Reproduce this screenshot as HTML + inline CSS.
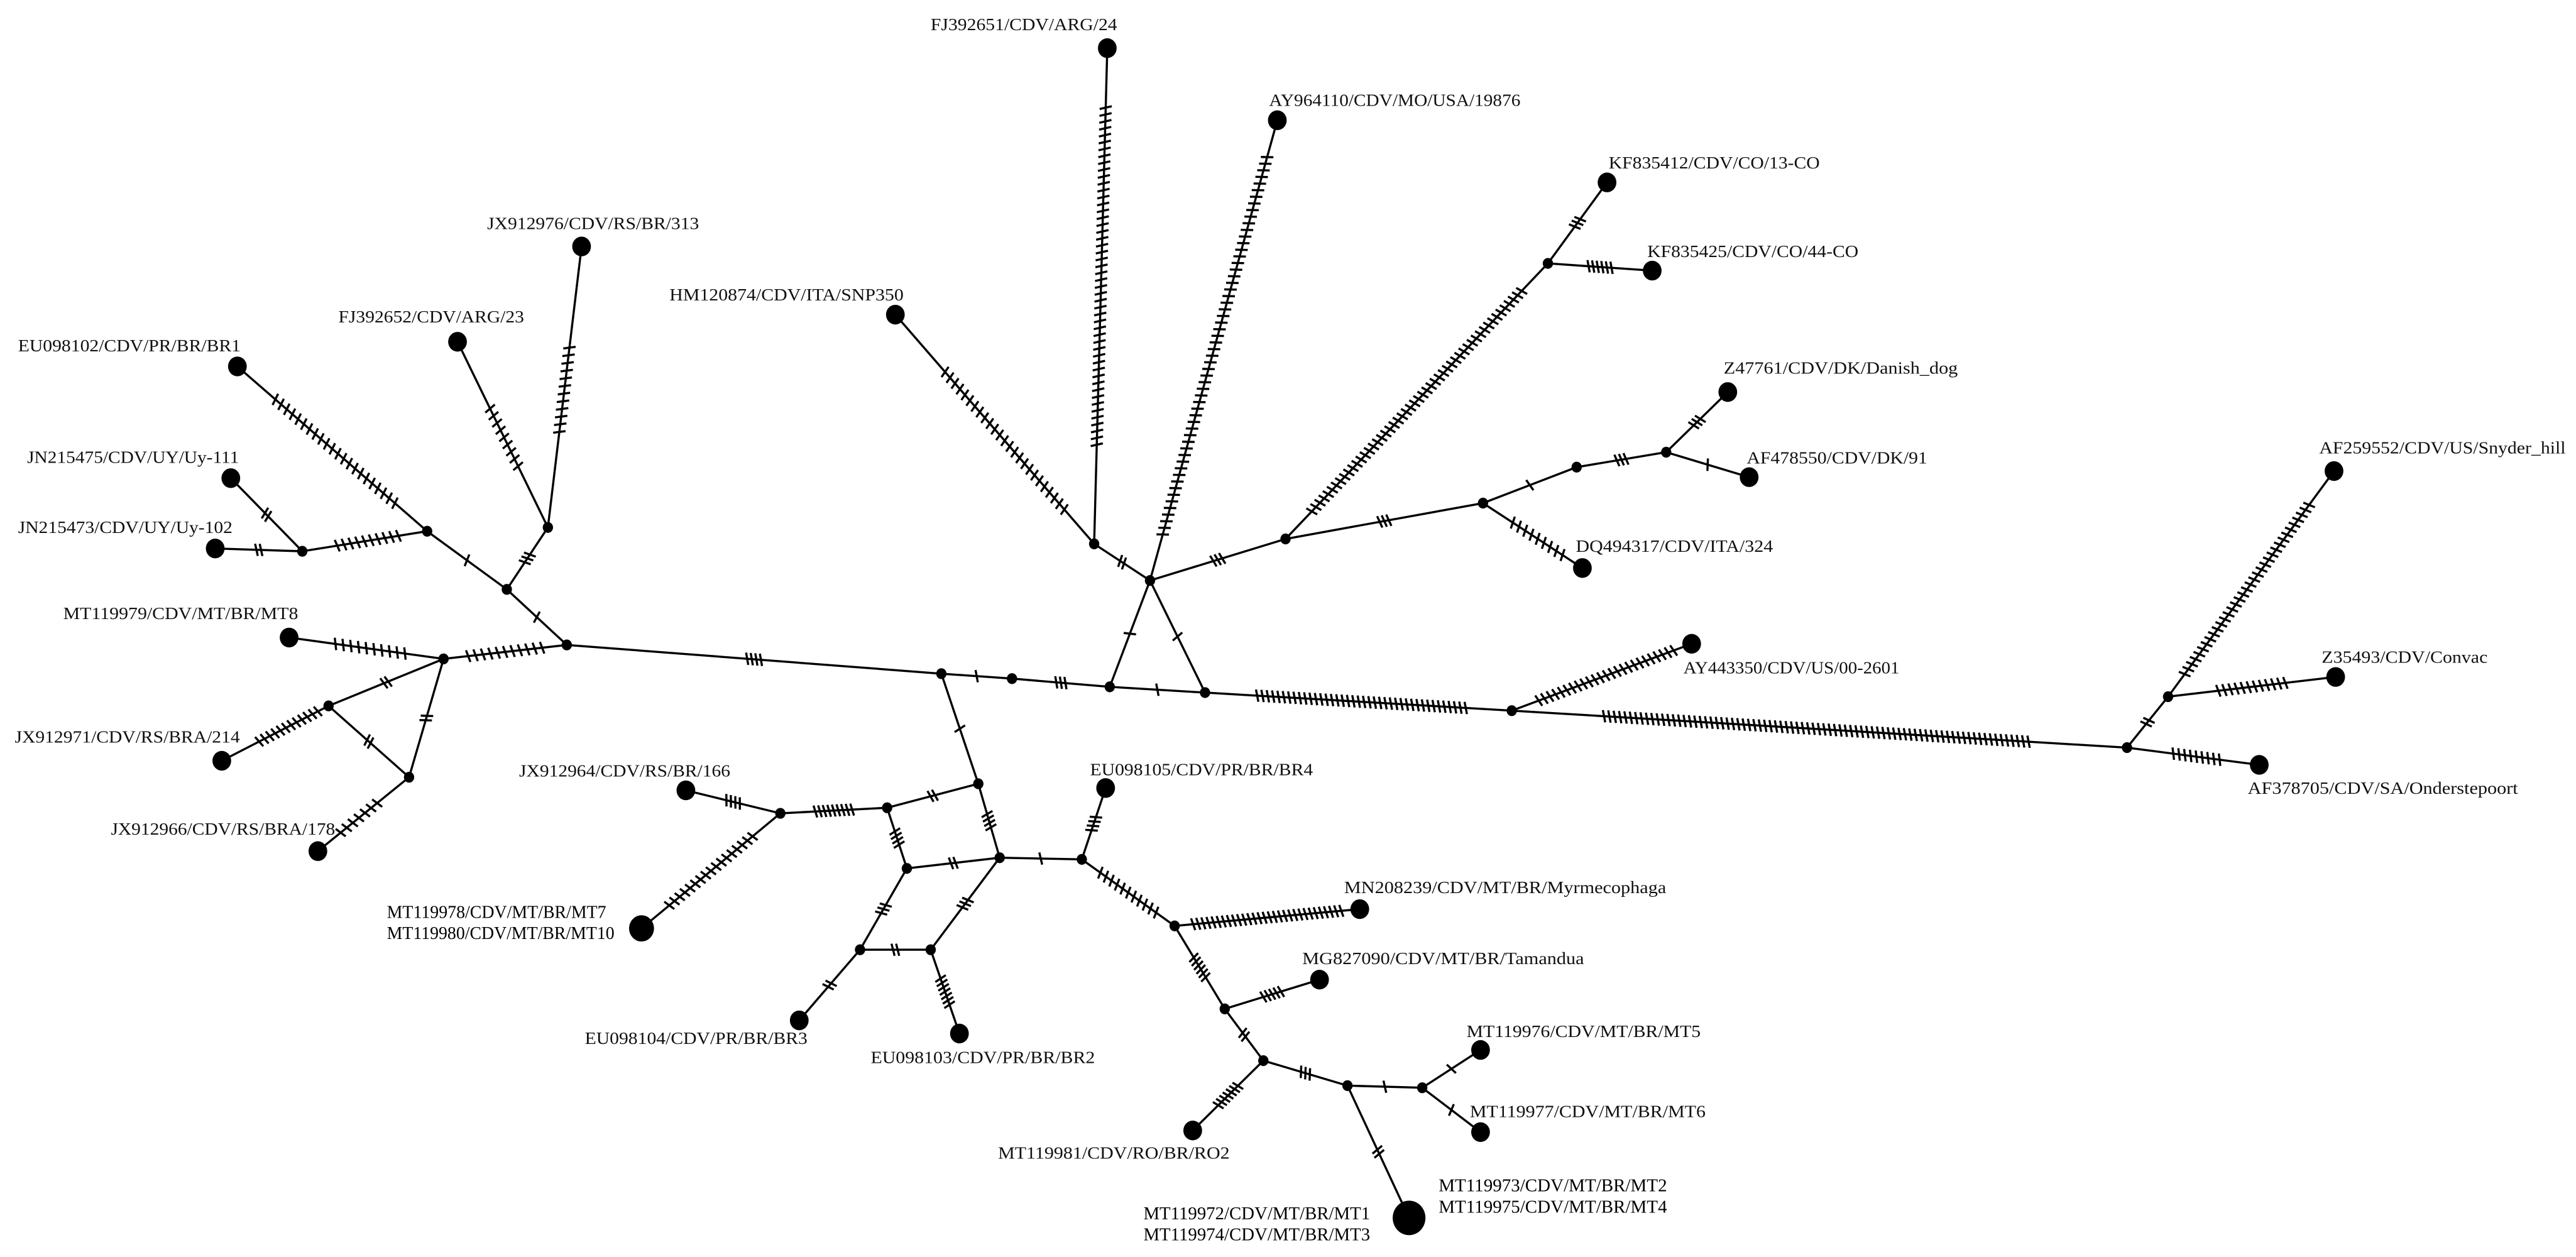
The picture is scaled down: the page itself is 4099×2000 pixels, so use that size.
<!DOCTYPE html>
<html><head><meta charset="utf-8"><style>
html,body{margin:0;padding:0;background:#fff;}
svg{display:block;}
text{font-family:"Liberation Serif","DejaVu Serif",serif;font-size:10.5px;fill:#111;dominant-baseline:central;}
text.b{font-size:11px;fill:#000;}
</style></head><body>
<svg id="s" width="4099" height="2000" viewBox="0 0 1568 765" preserveAspectRatio="none" xmlns="http://www.w3.org/2000/svg">
<g id="edges" stroke="#000" stroke-width="1.3" fill="none"></g>
<g id="ticks" stroke="#000" stroke-width="1.3" fill="none"></g>
<g id="nodes" fill="#000"></g>
<g>
<text x="566.5" y="15" textLength="113.5" lengthAdjust="spacingAndGlyphs">FJ392651/CDV/ARG/24</text>
<text x="772.5" y="61" textLength="153" lengthAdjust="spacingAndGlyphs">AY964110/CDV/MO/USA/19876</text>
<text x="979.2" y="99" textLength="128.5" lengthAdjust="spacingAndGlyphs">KF835412/CDV/CO/13-CO</text>
<text x="1002.7" y="153" textLength="128.5" lengthAdjust="spacingAndGlyphs">KF835425/CDV/CO/44-CO</text>
<text x="1049.2" y="224" textLength="142.5" lengthAdjust="spacingAndGlyphs">Z47761/CDV/DK/Danish_dog</text>
<text x="1063.2" y="278.6" textLength="110" lengthAdjust="spacingAndGlyphs">AF478550/CDV/DK/91</text>
<text x="959.2" y="332.3" textLength="120" lengthAdjust="spacingAndGlyphs">DQ494317/CDV/ITA/324</text>
<text x="1411.7" y="272.5" textLength="150" lengthAdjust="spacingAndGlyphs">AF259552/CDV/US/Snyder_hill</text>
<text x="1024.7" y="406.4" textLength="131.5" lengthAdjust="spacingAndGlyphs">AY443350/CDV/US/00-2601</text>
<text x="1413.2" y="400" textLength="101" lengthAdjust="spacingAndGlyphs">Z35493/CDV/Convac</text>
<text x="1368.2" y="479.6" textLength="164.5" lengthAdjust="spacingAndGlyphs">AF378705/CDV/SA/Onderstepoort</text>
<text x="818.2" y="540" textLength="196" lengthAdjust="spacingAndGlyphs">MN208239/CDV/MT/BR/Myrmecophaga</text>
<text x="792.7" y="583.3" textLength="171.5" lengthAdjust="spacingAndGlyphs">MG827090/CDV/MT/BR/Tamandua</text>
<text x="892.7" y="627.7" textLength="142.5" lengthAdjust="spacingAndGlyphs">MT119976/CDV/MT/BR/MT5</text>
<text x="894.7" y="676.5" textLength="143.5" lengthAdjust="spacingAndGlyphs">MT119977/CDV/MT/BR/MT6</text>
<text class="b" x="875.7" y="721.6" textLength="139" lengthAdjust="spacingAndGlyphs">MT119973/CDV/MT/BR/MT2</text>
<text class="b" x="875.7" y="734.6" textLength="139" lengthAdjust="spacingAndGlyphs">MT119975/CDV/MT/BR/MT4</text>
<text class="b" x="696" y="738.7" textLength="138" lengthAdjust="spacingAndGlyphs">MT119972/CDV/MT/BR/MT1</text>
<text class="b" x="696" y="751.4" textLength="138" lengthAdjust="spacingAndGlyphs">MT119974/CDV/MT/BR/MT3</text>
<text x="607.5" y="701.7" textLength="141" lengthAdjust="spacingAndGlyphs">MT119981/CDV/RO/BR/RO2</text>
<text x="530" y="643.6" textLength="136.5" lengthAdjust="spacingAndGlyphs">EU098103/CDV/PR/BR/BR2</text>
<text x="356" y="631.9" textLength="135.5" lengthAdjust="spacingAndGlyphs">EU098104/CDV/PR/BR/BR3</text>
<text x="663.5" y="468.4" textLength="135.7" lengthAdjust="spacingAndGlyphs">EU098105/CDV/PR/BR/BR4</text>
<text class="b" x="235.5" y="555.2" textLength="133.5" lengthAdjust="spacingAndGlyphs">MT119978/CDV/MT/BR/MT7</text>
<text class="b" x="235.5" y="568" textLength="138.5" lengthAdjust="spacingAndGlyphs">MT119980/CDV/MT/BR/MT10</text>
<text x="316" y="469.1" textLength="128.5" lengthAdjust="spacingAndGlyphs">JX912964/CDV/RS/BR/166</text>
<text x="9" y="448.4" textLength="137" lengthAdjust="spacingAndGlyphs">JX912971/CDV/RS/BRA/214</text>
<text x="67.5" y="504.5" textLength="136.5" lengthAdjust="spacingAndGlyphs">JX912966/CDV/RS/BRA/178</text>
<text x="38.5" y="373.3" textLength="143" lengthAdjust="spacingAndGlyphs">MT119979/CDV/MT/BR/MT8</text>
<text x="11" y="320.9" textLength="130.5" lengthAdjust="spacingAndGlyphs">JN215473/CDV/UY/Uy-102</text>
<text x="16.5" y="278.2" textLength="129" lengthAdjust="spacingAndGlyphs">JN215475/CDV/UY/Uy-111</text>
<text x="11" y="210.3" textLength="135.5" lengthAdjust="spacingAndGlyphs">EU098102/CDV/PR/BR/BR1</text>
<text x="206" y="192.8" textLength="113" lengthAdjust="spacingAndGlyphs">FJ392652/CDV/ARG/23</text>
<text x="296.5" y="135.9" textLength="129" lengthAdjust="spacingAndGlyphs">JX912976/CDV/RS/BR/313</text>
<text x="407.5" y="179.3" textLength="142.5" lengthAdjust="spacingAndGlyphs">HM120874/CDV/ITA/SNP350</text>
</g>
</svg>
<script>
(function(){
var N={
a:[144.5,223],b:[140.5,291],c:[131,333.8],d:[184,335.5],e:[260,323.3],f:[278.5,208],g:[354,150],h:[333.5,321],i:[308.5,358.7],
j:[345,392.5],k:[176,388],l:[270,401],m:[200,429.6],n:[249,473],o:[135,463],p:[193.5,518],
q:[573,410],r:[616,413],s:[675.5,418],t:[733.5,421.5],u:[595.5,477],v:[540,491.6],w:[475,495],x:[417.5,481],y:[390.5,565],
z:[552,528.5],A:[608.5,522],B:[658.5,523],C:[523.5,578],D:[566.5,578],E:[486.5,621],F:[584,629],G:[673,479.6],
H:[715,563.5],I:[827.7,553.3],J:[745.5,614],K:[803.2,596.2],L:[769,645.5],M:[726,688],O:[820.2,660.7],P:[865.7,662],
Q:[901.2,639],R:[901.2,689],S:[857.7,741.2],
T:[700,353.3],U:[666,331],V:[545,191.5],W:[674,29.3],X:[777.5,73.2],Y:[782.5,328],Z:[942.2,160.3],
aa:[978.2,111],ab:[1005.7,164.7],ac:[902.7,306.2],ad:[959.7,284.3],ae:[1014.2,275.2],af:[1051.7,238.6],ag:[1064.7,290.4],ah:[963.2,345.7],
ai:[920.2,432.5],aj:[1029.7,391.8],ak:[1294.7,455],al:[1319.7,424],am:[1420.7,286.7],an:[1421.7,412],ao:[1375.2,465.5]};
var E=[
['a','e',22,.2,.83],['b','d',2],['c','d',2],['d','e',10,.28,.77],['f','h',9,.36,.67],['g','h',12,.36,.66],['e','i',1],['h','i',3],['i','j',1],
['k','l',10,.3,.75],['l','j',11,.2,.8],['l','m',2],['l','n',2],['m','n',2],['m','o',12,.1,.65],['n','p',7,.35,.75],
['j','q',4],['q','r',1],['r','s',3],['s','t',1],['q','u',1],['u','v',2],['v','w',9],['w','x',4],['w','y',17,.2,.8],
['v','z',4],['u','A',4],['z','A',2],['A','B',1],['z','C',3],['A','D',3],['C','D',2],['C','E',2],['D','F',7],['B','G',4],
['B','H',11,.2,.8],['H','I',30,.1,.9],['H','J',6],['J','K',5],['J','L',2],['L','M',7],['L','O',3],['O','P',1],['P','Q',1],['P','R',1],['O','S',2],
['s','T',1],['t','T',1],['T','U',2],['U','V',25,.15,.75],['U','W',50,.2,.88],['T','X',58,.1,.92],['T','Y',3],['Y','Z',52,.1,.9],
['Z','aa',3],['Z','ab',6],['Y','ac',3],['ac','ad',1],['ad','ae',3],['ae','af',3],['ae','ag',1],['ac','ah',9,.3,.8],
['t','ai',40,.17,.85],['ai','aj',25,.15,.9],['ai','ak',80,.15,.84],['ak','al',2],['al','am',35,.1,.85],['al','an',12,.3,.7],['ak','ao',9,.35,.7]];
var ns='http://www.w3.org/2000/svg';
var ge=document.getElementById('edges'),gt=document.getElementById('ticks'),gn=document.getElementById('nodes');
function ln(g,x1,y1,x2,y2){var l=document.createElementNS(ns,'line');l.setAttribute('x1',x1);l.setAttribute('y1',y1);l.setAttribute('x2',x2);l.setAttribute('y2',y2);g.appendChild(l);}
E.forEach(function(e){
 var A=N[e[0]],B=N[e[1]];ln(ge,A[0],A[1],B[0],B[1]);
 var n=e[2],dx=B[0]-A[0],dy=B[1]-A[1],L=Math.sqrt(dx*dx+dy*dy),ux=dx/L,uy=dy/L;
 var t0,t1;
 if(e.length>3){t0=e[3];t1=e[4];}else{var sp=2.8*(n-1)/L;t0=.5-sp/2;t1=.5+sp/2;}
 var a=0.25,px=-uy,py=ux;
 var qx=px*Math.cos(a)+ux*Math.sin(a),qy=py*Math.cos(a)+uy*Math.sin(a);
 for(var k=0;k<n;k++){var t=n==1?.5:t0+(t1-t0)*k/(n-1);var cx=A[0]+dx*t,cy=A[1]+dy*t;ln(gt,cx-qx*3.8,cy-qy*3.8,cx+qx*3.8,cy+qy*3.8);}
});
var leaves={a:6,b:6,c:6,f:6,g:6,k:6,o:6,p:6,x:6,y:8,E:6,F:6,G:6,I:6,K:6,M:6,Q:6,R:6,S:10.5,
V:6,W:6,X:6,aa:6,ab:6,af:6,ag:6,ah:6,aj:6,am:6,an:6,ao:6};
for(var key in N){var c=document.createElementNS(ns,'ellipse');c.setAttribute('cx',N[key][0]);c.setAttribute('cy',N[key][1]);
 var r=leaves[key]||3.3;c.setAttribute('rx',r*0.95);c.setAttribute('ry',r);gn.appendChild(c);}
})();
</script>
</body></html>
